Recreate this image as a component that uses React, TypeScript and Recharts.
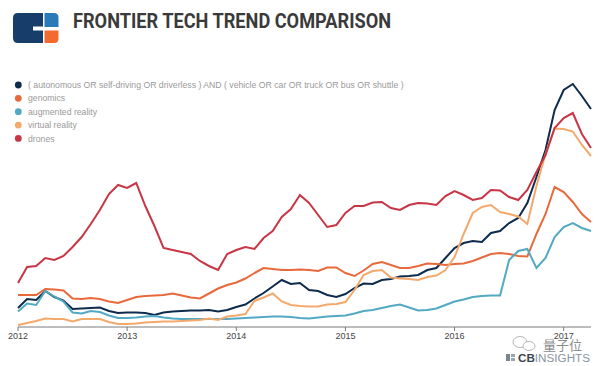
import React from "react";
import { LineChart, Line, XAxis, YAxis } from "recharts";

const yearLabels = ["2012", "2013", "2014", "2015", "2016", "2017"];
const monthsPerYear = 12;

const autonomous = [19, 28, 27, 36, 30, 26.5, 18, 18.5, 19, 19.5, 16, 14, 14.5, 14.5, 14, 12, 14.5, 15.5, 16, 16.5, 16.5, 17, 15.5, 17, 20, 22.5, 28.5, 34, 40.5, 47, 43, 44, 37, 36, 32, 30, 33, 39, 43.5, 43, 47, 48, 50.5, 51, 52, 57, 59, 69, 79, 84, 86, 85, 94, 96, 104, 109, 124, 150, 177, 217, 237, 243, 231, 218];
const genomics = [32, 32, 32, 38, 37.5, 36.5, 28.5, 28, 29, 28, 25.5, 24, 27, 30, 31, 31.5, 32, 33.5, 31.5, 29.5, 28.5, 33.5, 38.5, 42, 44.5, 48.5, 54, 59, 58, 57, 57, 57.5, 57, 56, 59.5, 59.5, 54, 51, 56.5, 63, 65, 62, 59, 59, 61, 63.5, 63, 62, 63, 63.5, 66, 69.5, 73, 74, 73, 71, 70.5, 93, 113, 140, 135, 125, 113, 105];
const augmented = [15.5, 23.5, 22, 36, 30.5, 25.5, 14.5, 13.5, 16, 15, 11.5, 9, 9, 9.5, 10.5, 11, 9.5, 8.5, 8, 8, 8, 8, 8, 8, 8.5, 9, 9.5, 10, 10.5, 10.5, 10, 9, 8.5, 9.5, 10.5, 11, 11.5, 13.5, 16, 17, 19, 21, 22.5, 19.5, 16.5, 17, 18.5, 22, 25.5, 27.5, 30, 31, 31.5, 31.5, 67, 76, 78, 59, 69, 90, 100, 104, 99, 96];
const virtualReality = [2, 4, 6, 8.5, 8, 8, 5.5, 8, 8, 8, 5, 3, 3, 3.5, 4.5, 5, 5.5, 5.5, 6, 6.5, 7, 8.5, 7, 10.5, 11.5, 13, 26, 29.5, 33.5, 25.5, 22, 21, 20.5, 20.5, 22.5, 23, 25, 37, 52, 56, 57, 49.5, 48.5, 48, 47, 50, 51.5, 57, 70, 93, 114, 120, 122, 115, 113, 110.5, 103, 141, 173, 198.5, 198, 195.5, 182, 171];
const drones = [44, 60, 61, 69, 67, 71, 80, 90, 103, 117, 133, 142, 139, 144, 121, 101, 79, 77, 75, 73, 66, 61, 57, 73, 77, 80, 78, 89, 96, 110, 118, 132, 124, 112, 100, 102, 114, 121, 121, 124.5, 125, 119, 117, 122, 124, 123.5, 122, 131, 136, 132, 127, 129, 137, 136.5, 130, 127, 137, 155, 172, 199, 209, 214, 193, 179];

const series = [
  { key: "autonomous", name: "( autonomous OR self-driving OR driverless ) AND ( vehicle OR car OR truck OR bus OR shuttle )", color: "#0f2b4c", values: autonomous },
  { key: "genomics", name: "genomics", color: "#e8693c", values: genomics },
  { key: "augmented", name: "augmented reality", color: "#52a9c2", values: augmented },
  { key: "virtual", name: "virtual reality", color: "#f3a96c", values: virtualReality },
  { key: "drones", name: "drones", color: "#c83545", values: drones },
];

const data = autonomous.map((_, i) => {
  const row: Record<string, number | string> = {
    idx: i,
    month: `${Number(yearLabels[0]) + Math.floor(i / monthsPerYear)}-${(i % monthsPerYear) + 1}`,
  };
  series.forEach((s) => {
    row[s.key] = s.values[i];
  });
  return row;
});

const yearTicks = yearLabels.map((_, k) => k * monthsPerYear);

export default function App() {
  return (
    <div style={{ position: "absolute", left: 0, top: 0, width: 600, height: 366, background: "#fff", overflow: "hidden" }}>
      <LineChart width={600} height={366} data={data} margin={{ top: 77, right: 9, bottom: 9, left: 18 }}>
        <YAxis hide domain={[0, 250]} type="number" />
        <XAxis
          dataKey="idx"
          type="number"
          domain={[0, autonomous.length - 1]}
          ticks={yearTicks}
          tickFormatter={(v: number) => yearLabels[Math.round(v / monthsPerYear)]}
          stroke="#7a7a7a"
          tickSize={4}
          tick={{ fontSize: 9, fill: "#444", fontFamily: "'Liberation Sans Narrow', 'Liberation Sans', Arial, sans-serif" }}
          interval={0}
        />
        {series.map((s) => (
          <Line
            key={s.key}
            type="linear"
            dataKey={s.key}
            name={s.name}
            stroke={s.color}
            strokeWidth={2}
            dot={false}
            isAnimationActive={false}
          />
        ))}
      </LineChart>
      <svg width={600} height={366} style={{ position: "absolute", left: 0, top: 0, pointerEvents: "none" }}>
        <path d="M18 13 H43 V26.5 H33 V30.5 H43 V43 H18 Q13 43 13 38 V18 Q13 13 18 13 Z" fill="#173d6b" />
        <path d="M44.5 13 H54 Q58.5 13 58.5 17.5 V27 H44.5 Z" fill="#2a7ab8" />
        <path d="M44.5 30.5 H58.5 V38.5 Q58.5 43 54 43 H44.5 Z" fill="#f26a2d" />
        <text x={73} y={27.5} fontFamily="Roboto, 'Liberation Sans', sans-serif" fontWeight={700} fontSize={20.5} fill="#3a3a3a" textLength={318} lengthAdjust="spacingAndGlyphs">
          FRONTIER TECH TREND COMPARISON
        </text>
        {series.map((s, k) => {
          const cy = 85 + k * 13.35;
          return (
            <g key={s.key}>
              <circle cx={18.3} cy={cy} r={3.4} fill={s.color} />
              <text x={28} y={cy + 3.1} fontSize={8.7} fill="#9a9a9a" fontFamily="'Liberation Sans', Arial, sans-serif">
                {s.name}
              </text>
            </g>
          );
        })}
        <ellipse cx={520} cy={342} rx={7} ry={5.5} fill="none" stroke="#b5b5b5" strokeWidth={1} />
        <ellipse cx={529} cy={346} rx={6} ry={4.5} fill="#fff" stroke="#b5b5b5" strokeWidth={1} />
        <text x={543} y={350} fontSize={13} fill="#8a8a8a" fontFamily="'Noto Sans CJK SC', sans-serif">量子位</text>
        <rect x={506} y={354} width={4} height={7} fill="#7a8793" />
        <rect x={511} y={354} width={4} height={3} fill="#9aa6b2" />
        <rect x={511} y={358} width={4} height={3} fill="#9aa6b2" />
        <text x={518} y={362} fontSize={10} fontFamily="'Liberation Sans', Arial, sans-serif" textLength={72} lengthAdjust="spacingAndGlyphs">
          <tspan fontWeight={700} fill="#3d4650">CB</tspan>
          <tspan fill="#8a949e">INSIGHTS</tspan>
        </text>
      </svg>
    </div>
  );
}
